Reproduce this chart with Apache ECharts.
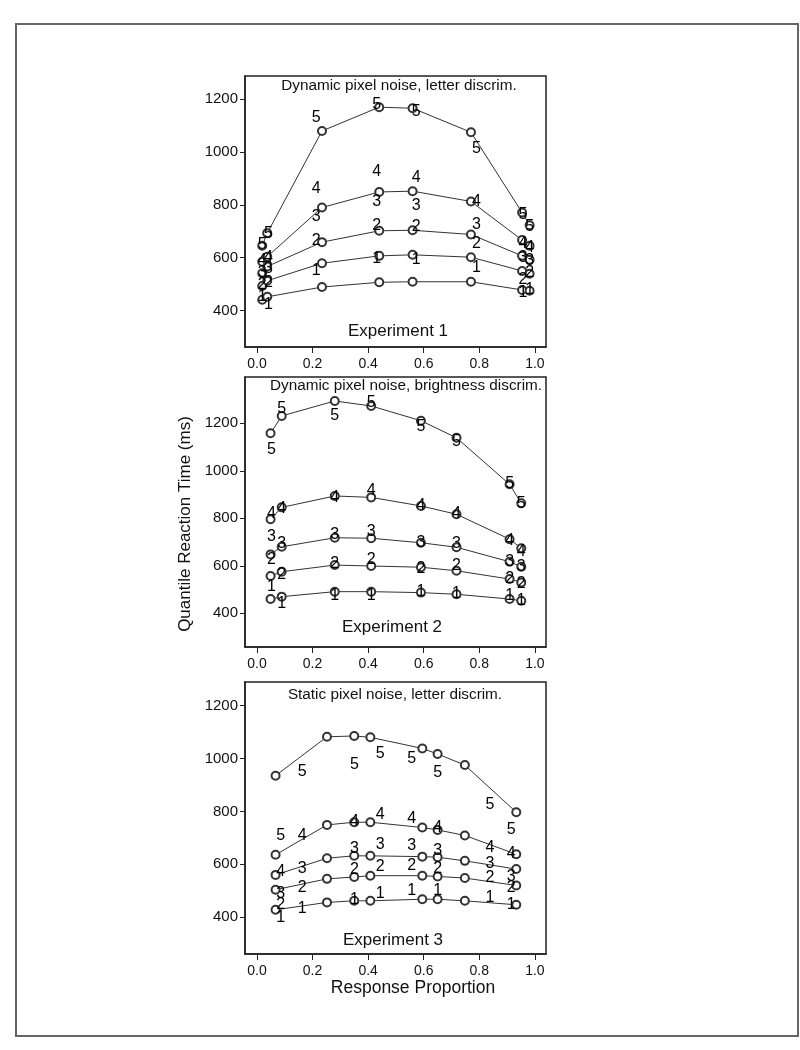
<!DOCTYPE html>
<html>
<head>
<meta charset="utf-8">
<script src="https://cdn.jsdelivr.net/npm/echarts@6/dist/echarts.min.js"></script>
<style>
  html, body { margin: 0; padding: 0; background: #fff; }
  #chart { width: 800px; height: 1050px; }
</style>
</head>
<body>
<div id="chart"></div>
<script>
// ---------- data ----------
const xTicks = [0, 0.2, 0.4, 0.6, 0.8, 1.0];
const yTicks = [400, 600, 800, 1000, 1200];
const quantileNames = ['1', '2', '3', '4', '5'];
const panelTitles = ['Dynamic pixel noise, letter discrim.', 'Dynamic pixel noise, brightness discrim.', 'Static pixel noise, letter discrim.'];
const experimentLabels = ['Experiment 1', 'Experiment 2', 'Experiment 3'];
const yTitle = 'Quantile Reaction Time (ms)';
const xTitle = 'Response Proportion';

// Experiment 1: model predictions (circles + lines) and observed quantiles (digits)
const e1ModelX = [0.019, 0.037, 0.234, 0.44, 0.56, 0.77, 0.954, 0.981];
const e1ModelQ1 = [441, 452, 489, 507, 509, 509, 478, 475];
const e1ModelQ2 = [493, 513, 579, 607, 611, 602, 550, 539];
const e1ModelQ3 = [541, 567, 659, 702, 704, 688, 607, 592];
const e1ModelQ4 = [585, 604, 790, 849, 852, 813, 667, 645];
const e1ModelQ5 = [645, 693, 1080, 1170, 1166, 1075, 771, 723];
const e1DataX = [0.019, 0.041, 0.213, 0.431, 0.573, 0.79, 0.957, 0.981];
const e1DataQ1 = [451, 422, 551, 598, 594, 564, 468, 478];
const e1DataQ2 = [500, 504, 665, 720, 716, 652, 519, 545];
const e1DataQ3 = [545, 557, 756, 812, 796, 724, 600, 590];
const e1DataQ4 = [590, 601, 861, 926, 905, 812, 655, 640];
const e1DataQ5 = [650, 690, 1130, 1181, 1153, 1015, 762, 716];

// Experiment 2
const e2ModelX = [0.049, 0.089, 0.28, 0.411, 0.59, 0.718, 0.909, 0.951];
const e2ModelQ1 = [460, 470, 491, 491, 487, 480, 460, 453];
const e2ModelQ2 = [557, 575, 603, 599, 594, 579, 544, 530];
const e2ModelQ3 = [648, 680, 718, 716, 697, 678, 617, 596];
const e2ModelQ4 = [796, 846, 894, 888, 852, 817, 712, 674];
const e2ModelQ5 = [1158, 1231, 1294, 1273, 1211, 1139, 943, 863];
const e2DataX = [0.052, 0.089, 0.28, 0.411, 0.59, 0.718, 0.909, 0.951];
const e2DataQ1 = [512, 442, 473, 473, 491, 481, 473, 453];
const e2DataQ2 = [627, 565, 610, 627, 590, 599, 547, 524];
const e2DataQ3 = [723, 695, 730, 744, 697, 695, 617, 598];
const e2DataQ4 = [818, 842, 888, 916, 852, 818, 706, 659];
const e2DataQ5 = [1088, 1263, 1231, 1287, 1186, 1123, 947, 863];

// Experiment 3
const e3ModelX = [0.067, 0.252, 0.35, 0.408, 0.595, 0.65, 0.748, 0.933];
const e3ModelQ1 = [428, 456, 462, 462, 468, 468, 462, 447];
const e3ModelQ2 = [504, 545, 552, 557, 557, 554, 548, 520];
const e3ModelQ3 = [560, 623, 632, 632, 629, 627, 613, 582];
const e3ModelQ4 = [636, 749, 759, 759, 739, 730, 709, 638];
const e3ModelQ5 = [935, 1082, 1085, 1080, 1038, 1017, 975, 797];
const e3DataX = [0.085, 0.163, 0.351, 0.443, 0.557, 0.65, 0.838, 0.915];
const e3DataQ1 = [399, 431, 466, 491, 500, 500, 473, 447];
const e3DataQ2 = [447, 513, 579, 592, 595, 585, 548, 513];
const e3DataQ3 = [491, 585, 661, 673, 671, 651, 601, 554];
const e3DataQ4 = [574, 708, 761, 787, 774, 737, 663, 642];
const e3DataQ5 = [709, 950, 978, 1017, 1001, 948, 827, 730];

// ---------- build ----------
const FONT = '"Liberation Sans", Arial, Helvetica, sans-serif';
const INK = '#111';

const panels = [
  { modelX: e1ModelX, model: [e1ModelQ1, e1ModelQ2, e1ModelQ3, e1ModelQ4, e1ModelQ5],
    dataX: e1DataX, data: [e1DataQ1, e1DataQ2, e1DataQ3, e1DataQ4, e1DataQ5],
    grid: { left: 245, top: 76, width: 301, height: 271 }, yMin: 262, yMax: 1288,
    titleX: 399, titleY: 86, expX: 398, expY: 331 },
  { modelX: e2ModelX, model: [e2ModelQ1, e2ModelQ2, e2ModelQ3, e2ModelQ4, e2ModelQ5],
    dataX: e2DataX, data: [e2DataQ1, e2DataQ2, e2DataQ3, e2DataQ4, e2DataQ5],
    grid: { left: 245, top: 377, width: 301, height: 270 }, yMin: 258, yMax: 1395,
    titleX: 406, titleY: 386, expX: 392, expY: 627 },
  { modelX: e3ModelX, model: [e3ModelQ1, e3ModelQ2, e3ModelQ3, e3ModelQ4, e3ModelQ5],
    dataX: e3DataX, data: [e3DataQ1, e3DataQ2, e3DataQ3, e3DataQ4, e3DataQ5],
    grid: { left: 245, top: 682, width: 301, height: 272 }, yMin: 261, yMax: 1289,
    titleX: 395, titleY: 695, expX: 393, expY: 940 }
];

const grids = [], xAxes = [], yAxes = [], series = [], graphics = [];

panels.forEach((p, i) => {
  grids.push(Object.assign({ show: true, borderColor: '#222', borderWidth: 1.5, backgroundColor: 'transparent' }, p.grid));
  xAxes.push({
    gridIndex: i, type: 'value', min: -0.043, max: 1.04,
    axisLine: { show: true, onZero: false, lineStyle: { color: '#222', width: 1.5 } },
    splitLine: { show: false },
    axisTick: { show: true, inside: false, length: 6, customValues: xTicks, lineStyle: { color: '#222', width: 1 } },
    axisLabel: { customValues: xTicks, formatter: v => v.toFixed(1), fontSize: 14, color: INK, margin: 10, fontFamily: FONT }
  });
  yAxes.push({
    gridIndex: i, type: 'value', min: p.yMin, max: p.yMax,
    axisLine: { show: true, onZero: false, lineStyle: { color: '#222', width: 1.5 } },
    splitLine: { show: false },
    axisTick: { show: true, inside: false, length: 5, customValues: yTicks, lineStyle: { color: '#222', width: 1 } },
    axisLabel: { customValues: yTicks, formatter: v => String(Math.round(v)), fontSize: 15, color: INK, margin: 7, fontFamily: FONT }
  });
  p.model.forEach((vals, q) => {
    series.push({
      type: 'line', xAxisIndex: i, yAxisIndex: i,
      data: p.modelX.map((x, k) => [x, vals[k]]),
      symbol: 'emptyCircle', symbolSize: 8, showSymbol: true,
      lineStyle: { color: '#333', width: 1 },
      itemStyle: { color: '#333', borderColor: '#333', borderWidth: 1 },
      emphasis: { disabled: true },
      animation: false, z: 3
    });
  });
  p.data.forEach((vals, q) => {
    series.push({
      type: 'scatter', xAxisIndex: i, yAxisIndex: i,
      data: p.dataX.map((x, k) => [x, vals[k]]),
      symbolSize: 1, itemStyle: { color: 'rgba(0,0,0,0)' },
      label: { show: true, position: 'inside', formatter: quantileNames[q], fontSize: 16, color: '#000', opacity: 1, textBorderWidth: 0, fontFamily: FONT },
      emphasis: { disabled: true },
      animation: false, z: 4
    });
  });
  graphics.push({ type: 'text', x: p.titleX, y: p.titleY, z: 10,
    style: { text: panelTitles[i], fontSize: 15.3, fontFamily: FONT, fill: INK, textAlign: 'center', textVerticalAlign: 'middle' } });
  graphics.push({ type: 'text', x: p.expX, y: p.expY, z: 10,
    style: { text: experimentLabels[i], fontSize: 17, fontFamily: FONT, fill: INK, textAlign: 'center', textVerticalAlign: 'middle' } });
});

graphics.push({ type: 'rect', shape: { x: 16, y: 24, width: 782, height: 1012 }, z: 0,
  style: { fill: 'none', stroke: '#666', lineWidth: 2 } });
graphics.push({ type: 'text', x: 185, y: 524, rotation: Math.PI / 2, z: 10,
  style: { text: yTitle, fontSize: 17, fontFamily: FONT, fill: INK, textAlign: 'center', textVerticalAlign: 'middle' } });
graphics.push({ type: 'text', x: 413, y: 988, z: 10,
  style: { text: xTitle, fontSize: 17.5, fontFamily: FONT, fill: INK, textAlign: 'center', textVerticalAlign: 'middle' } });

const chart = echarts.init(document.getElementById('chart'), null, { renderer: 'canvas' });
chart.setOption({
  backgroundColor: '#fff',
  animation: false,
  grid: grids, xAxis: xAxes, yAxis: yAxes, series: series, graphic: graphics
});
</script>
</body>
</html>
